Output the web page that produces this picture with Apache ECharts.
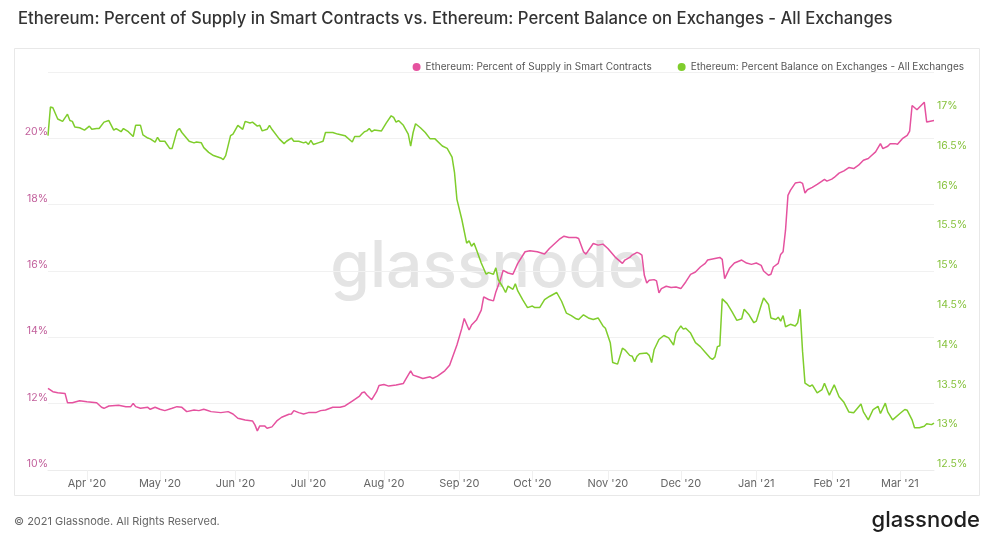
<!doctype html>
<html>
<head>
<meta charset="utf-8">
<title>ETH smart contracts vs exchange balance</title>
<style>
html, body { margin: 0; padding: 0; background: #fff; }
#chart { width: 995px; height: 536px; }
</style>
<script src="https://cdn.jsdelivr.net/npm/echarts@6/dist/echarts.min.js"></script>
</head>
<body>
<div id="chart"></div>
<script>
// day offsets from 2020-03-16, value in %
var START = new Date('2020-03-16T00:00:00').getTime();
var DAY = 86400000;

var monthTicks = ['2020-04-01', '2020-05-01', '2020-06-01', '2020-07-01', '2020-08-01', '2020-09-01',
  '2020-10-01', '2020-11-01', '2020-12-01', '2021-01-01', '2021-02-01', '2021-03-01'];
var monthLabels = ["Apr '20", "May '20", "Jun '20", "Jul '20", "Aug '20", "Sep '20",
  "Oct '20", "Nov '20", "Dec '20", "Jan '21", "Feb '21", "Mar '21"];

// Ethereum: Percent of Supply in Smart Contracts
var smartContracts = [
  [0,12.46],[2,12.36],[4,12.33],[7,12.31],[8,12.03],[10,12.03],[13,12.09],[16,12.06],[20,12.03],[22,11.89],
  [23,11.86],[25,11.93],[29,11.95],[32,11.91],[34,11.91],[35,12.01],[36,11.91],[38,11.86],[41,11.89],[42,11.83],
  [44,11.89],[46,11.83],[48,11.79],[51,11.86],[53,11.91],[55,11.89],[57,11.76],[60,11.81],[62,11.79],[64,11.83],
  [65,11.81],[67,11.76],[71,11.73],[74,11.76],[76,11.69],[78,11.56],[81,11.51],[84,11.48],[85,11.36],[86,11.18],
  [87,11.33],[89,11.33],[90,11.26],[92,11.30],[94,11.48],[96,11.59],[99,11.68],[100,11.69],[101,11.79],[103,11.73],
  [105,11.69],[107,11.73],[110,11.73],[112,11.79],[114,11.81],[117,11.89],[120,11.89],[122,11.93],[125,12.08],[128,12.23],
  [129,12.33],[130,12.35],[131,12.26],[133,12.12],[135,12.36],[136,12.55],[138,12.58],[140,12.53],[143,12.56],[146,12.61],
  [147,12.74],[149,12.99],[150,12.86],[152,12.81],[154,12.76],[157,12.81],[158,12.76],[160,12.83],[163,12.99],[165,13.16],
  [168,13.77],[170,14.27],[171,14.57],[173,14.22],[174,14.37],[176,14.52],[178,14.82],[179,15.22],[181,15.14],[183,15.10],
  [184,15.37],[186,15.77],[187,16.02],[189,15.94],[191,15.90],[193,16.23],[196,16.58],[198,16.61],[201,16.58],[204,16.51],
  [206,16.68],[210,16.95],[212,17.05],[214,17.01],[217,17.01],[218,16.98],[220,16.58],[221,16.51],[224,16.83],[226,16.78],
  [228,16.81],[230,16.68],[233,16.42],[236,16.23],[237,16.33],[239,16.41],[240,16.48],[242,16.56],[243,16.53],[244,16.48],
  [245,15.87],[246,15.64],[247,15.72],[249,15.74],[250,15.70],[251,15.34],[252,15.47],[254,15.54],[256,15.50],[258,15.52],
  [260,15.47],[262,15.67],[264,15.90],[266,15.97],[268,16.12],[270,16.23],[271,16.33],[274,16.38],[276,16.41],[277,16.35],
  [278,15.77],[280,16.08],[282,16.24],[285,16.33],[287,16.24],[289,16.20],[291,16.24],[293,16.17],[294,16.00],[296,15.87],
  [297,15.90],[298,16.12],[300,16.23],[301,16.50],[302,16.58],[303,17.23],[304,18.28],[305,18.43],[307,18.65],[309,18.68],
  [310,18.64],[311,18.35],[312,18.45],[314,18.52],[316,18.61],[318,18.71],[319,18.76],[320,18.71],[322,18.77],[323,18.82],
  [325,18.95],[327,19.02],[329,19.12],[331,19.09],[333,19.19],[335,19.34],[337,19.39],[338,19.46],[340,19.59],[342,19.84],
  [343,19.69],[345,19.76],[346,19.84],[348,19.84],[349,19.82],[351,19.99],[353,20.09],[354,20.22],[355,20.99],[357,20.86],
  [358,20.94],[360,21.09],[361,20.49],[362,20.51],[364,20.54]
];

// Ethereum: Percent Balance on Exchanges - All Exchanges
var exchangeBalance = [
  [0,16.70],[1,17.06],[2,17.05],[4,16.91],[6,16.88],[8,16.97],[9,16.89],[10,16.88],[11,16.81],[13,16.80],
  [15,16.77],[17,16.82],[18,16.78],[20,16.79],[21,16.79],[23,16.87],[25,16.89],[27,16.77],[28,16.79],[30,16.75],
  [31,16.79],[33,16.75],[35,16.69],[36,16.83],[38,16.83],[39,16.71],[41,16.67],[42,16.66],[44,16.62],[45,16.68],
  [46,16.63],[48,16.63],[50,16.54],[51,16.54],[53,16.76],[54,16.79],[55,16.74],[58,16.63],[60,16.61],[61,16.62],
  [63,16.61],[64,16.55],[66,16.49],[68,16.45],[71,16.42],[72,16.40],[73,16.45],[75,16.70],[76,16.72],[78,16.83],
  [80,16.78],[81,16.88],[83,16.86],[84,16.87],[86,16.82],[87,16.83],[88,16.76],[90,16.78],[91,16.83],[92,16.78],
  [95,16.66],[97,16.60],[98,16.63],[100,16.67],[101,16.63],[103,16.63],[105,16.61],[106,16.62],[107,16.59],[108,16.64],
  [109,16.59],[111,16.61],[113,16.63],[114,16.74],[117,16.74],[119,16.72],[122,16.70],[125,16.62],[126,16.69],[128,16.69],
  [130,16.75],[131,16.76],[132,16.79],[133,16.75],[134,16.77],[137,16.76],[139,16.86],[141,16.95],[142,16.93],[143,16.87],
  [144,16.89],[146,16.83],[148,16.72],[149,16.57],[150,16.74],[151,16.85],[153,16.80],[155,16.74],[157,16.66],[159,16.66],
  [162,16.57],[164,16.54],[166,16.43],[167,16.24],[168,15.90],[170,15.65],[172,15.35],[173,15.38],[174,15.31],[175,15.35],
  [176,15.27],[178,15.10],[180,14.96],[181,14.98],[183,14.96],[184,15.04],[185,14.89],[187,14.79],[188,14.73],[189,14.81],
  [191,14.77],[192,14.84],[193,14.75],[195,14.64],[197,14.54],[199,14.56],[200,14.54],[202,14.54],[204,14.64],[206,14.68],
  [209,14.73],[211,14.62],[213,14.47],[215,14.44],[217,14.40],[218,14.39],[220,14.45],[222,14.41],[224,14.39],[226,14.41],
  [228,14.31],[229,14.28],[231,14.10],[232,13.85],[234,13.83],[236,14.03],[237,14.01],[239,13.94],[240,13.93],[241,13.86],
  [242,13.93],[243,13.96],[246,13.97],[247,13.94],[248,13.85],[249,14.01],[251,14.14],[253,14.19],[255,14.16],[257,14.07],
  [258,14.22],[260,14.31],[261,14.27],[262,14.28],[264,14.22],[266,14.10],[268,14.05],[270,13.98],[272,13.91],[273,13.89],
  [274,13.92],[275,14.05],[276,14.06],[277,14.65],[279,14.59],[281,14.49],[283,14.38],[285,14.40],[286,14.52],[288,14.45],
  [290,14.35],[291,14.37],[293,14.57],[294,14.66],[296,14.58],[297,14.41],[299,14.39],[300,14.42],[301,14.37],[302,14.44],
  [303,14.30],[305,14.33],[307,14.31],[308,14.35],[309,14.52],[310,13.99],[311,13.59],[313,13.55],[314,13.57],[316,13.47],
  [318,13.51],[319,13.59],[321,13.44],[323,13.57],[325,13.42],[327,13.35],[329,13.23],[331,13.22],[334,13.33],[335,13.23],
  [337,13.13],[339,13.26],[341,13.30],[342,13.21],[344,13.34],[345,13.23],[347,13.13],[350,13.21],[352,13.26],[353,13.25],
  [355,13.13],[356,13.03],[358,13.03],[360,13.05],[361,13.08],[363,13.07],[364,13.09]
];

var PINK = '#e5529f';
var GREEN = '#7fcd2c';
var FONT = 'Inter, "Noto Sans", sans-serif';

function toTime(pts) {
  return pts.map(function (p) { return [START + p[0] * DAY, p[1]]; });
}
var tickTimes = monthTicks.map(function (s) { return new Date(s + 'T00:00:00').getTime(); });

var myChart = echarts.init(document.getElementById('chart'));

var option = {
  backgroundColor: '#fff',
  animation: false,
  textStyle: { fontFamily: FONT },
  title: {
    text: 'Ethereum: Percent of Supply in Smart Contracts vs. Ethereum: Percent Balance on Exchanges - All Exchanges',
    left: 13,
    top: 5,
    textStyle: { fontFamily: FONT, fontSize: 16.7, fontWeight: 500, color: '#333' }
  },
  legend: {
    right: 26,
    top: 57,
    icon: 'circle',
    itemWidth: 8,
    itemHeight: 8,
    itemGap: 26,
    textStyle: { fontFamily: FONT, fontSize: 10, color: '#555' },
    data: ['Ethereum: Percent of Supply in Smart Contracts', 'Ethereum: Percent Balance on Exchanges - All Exchanges']
  },
  graphic: [
    {
      type: 'rect', z: -10, silent: true,
      shape: { x: 14.5, y: 48.5, width: 965, height: 447 },
      style: { fill: '#fff', stroke: '#e8e8e8', lineWidth: 1 }
    },
    {
      type: 'text', z: -5, silent: true, x: 488, y: 268,
      style: { text: 'glassnode', fontFamily: FONT, fontSize: 64, fontWeight: 500, fill: '#e4e4e4',
        align: 'center', verticalAlign: 'middle' }
    },
    {
      type: 'text', silent: true, left: 14, top: 516,
      style: { text: '\u00a9 2021 Glassnode. All Rights Reserved.', fontFamily: FONT, fontSize: 11, fill: '#666' }
    },
    {
      type: 'text', silent: true, right: 15, top: 509,
      style: { text: 'glassnode', fontFamily: FONT, fontSize: 22, fontWeight: 500, fill: '#1e1e1e' }
    }
  ],
  grid: { left: 48, right: 61, top: 72, bottom: 66, containLabel: false },
  xAxis: {
    type: 'value',
    min: START,
    max: START + 364 * DAY,
    axisLine: { show: true, lineStyle: { color: '#ececec' } },
    axisTick: { show: true, customValues: tickTimes, length: 10, lineStyle: { color: '#f0f0f0' } },
    splitLine: { show: false },
    axisLabel: {
      customValues: tickTimes,
      color: '#666',
      fontSize: 11,
      margin: 8,
      formatter: function (v) {
        var i = tickTimes.indexOf(v);
        return i >= 0 ? monthLabels[i] : '';
      }
    }
  },
  yAxis: [
    {
      type: 'value',
      min: 10, max: 22, interval: 2,
      position: 'left',
      axisLine: { show: false },
      axisTick: { show: false },
      splitLine: { show: true, lineStyle: { color: '#f1f1f1' } },
      axisLabel: {
        color: '#c2609c', fontSize: 10.5, margin: 0, verticalAlign: 'bottom', lineHeight: 12,
        showMaxLabel: false,
        formatter: '{value}%'
      }
    },
    {
      type: 'value',
      min: 12.5, max: 17.5, interval: 0.5,
      position: 'right',
      axisLine: { show: false },
      axisTick: { show: false },
      splitLine: { show: false },
      axisLabel: {
        color: '#86c23c', fontSize: 10.5, margin: 3, verticalAlign: 'bottom', lineHeight: 12,
        showMaxLabel: false,
        formatter: function (v) { return v + '%'; }
      }
    }
  ],
  series: [
    {
      name: 'Ethereum: Percent of Supply in Smart Contracts',
      type: 'line',
      yAxisIndex: 0,
      showSymbol: false,
      color: PINK,
      lineStyle: { width: 1.5, color: PINK },
      data: toTime(smartContracts)
    },
    {
      name: 'Ethereum: Percent Balance on Exchanges - All Exchanges',
      type: 'line',
      yAxisIndex: 1,
      showSymbol: false,
      color: GREEN,
      lineStyle: { width: 1.5, color: GREEN },
      data: toTime(exchangeBalance)
    }
  ]
};
myChart.setOption(option);
</script>
</body>
</html>
